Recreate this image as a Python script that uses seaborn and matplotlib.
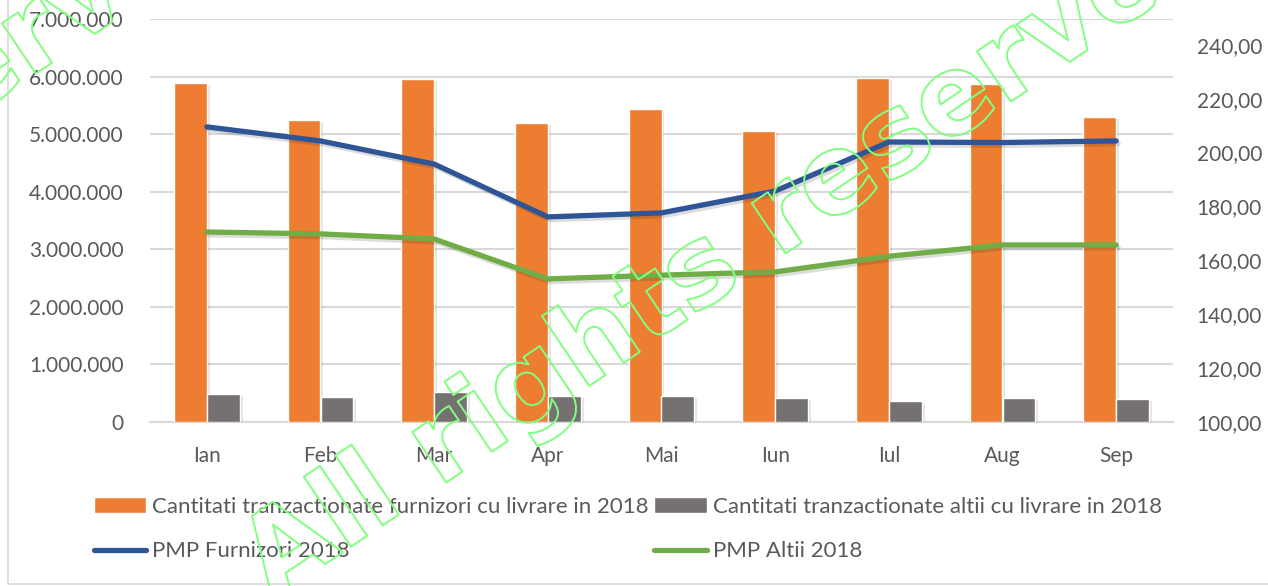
import numpy as np
import pandas as pd
import matplotlib
matplotlib.use("Agg")
import matplotlib.pyplot as plt
import seaborn as sns
from matplotlib import patheffects as pe
from matplotlib.lines import Line2D
from matplotlib.patches import Patch
from matplotlib.ticker import FuncFormatter

# ---------------- data ----------------
months = ["Ian", "Feb", "Mar", "Apr", "Mai", "Iun", "Iul", "Aug", "Sep"]
furnizori_qty = [5885000, 5240000, 5955000, 5190000, 5430000, 5050000, 5970000, 5870000, 5295000]
altii_qty = [480000, 440000, 526000, 450000, 450000, 420000, 370000, 410000, 395000]
pmp_furnizori = [209.5, 204.3, 195.7, 176.1, 177.6, 185.7, 203.9, 203.7, 204.3]
pmp_altii = [170.5, 169.8, 167.9, 153.1, 154.5, 155.7, 161.5, 165.7, 165.7]

label_furn = "Cantitati tranzactionate furnizori cu livrare in 2018"
label_alt = "Cantitati tranzactionate altii cu livrare in 2018"
label_pmp_f = "PMP Furnizori 2018"
label_pmp_a = "PMP Altii 2018"

left_ticks = [0, 1000000, 2000000, 3000000, 4000000, 5000000, 6000000, 7000000]
right_ticks = [100, 120, 140, 160, 180, 200, 220, 240]
watermark = "All rights reserved"

c_orange = "#ED7D31"
c_gray = "#767171"
c_blue = "#2F5597"
c_green = "#70AD47"
c_text = "#595959"
c_grid = "#D9D9D9"

sns.set_theme(style="white")
plt.rcParams["font.family"] = ["Lato", "DejaVu Sans"]

W, H = 1268, 586
fig = plt.figure(figsize=(W / 100, H / 100), dpi=100)
ax = fig.add_axes([150 / W, 1 - 422 / H, (1173 - 150) / W, (422 - 19) / H])

df = pd.DataFrame({
    "Luna": months * 2,
    "Cantitate": furnizori_qty + altii_qty,
    "Serie": [label_furn] * len(months) + [label_alt] * len(months),
})
sns.barplot(data=df, x="Luna", y="Cantitate", hue="Serie", order=months,
            hue_order=[label_furn, label_alt], palette=[c_orange, c_gray],
            width=0.58, gap=0, saturation=1, ax=ax, legend=False, zorder=3)
for p in ax.patches:
    p.set_path_effects([pe.SimplePatchShadow(offset=(2, -1.5), shadow_rgbFace="black", alpha=0.10),
                        pe.Normal()])

ax.set_xlim(-0.5, len(months) - 0.5)
ax.set_ylim(0, 7000000)
ax.set_yticks(left_ticks)
ax.yaxis.set_major_formatter(FuncFormatter(lambda v, p: f"{int(v):,}".replace(",", ".")))
ax.grid(axis="y", color=c_grid, linewidth=1.5, zorder=0)
ax.set_axisbelow(True)
for s in ["top", "right", "left"]:
    ax.spines[s].set_visible(False)
ax.spines["bottom"].set_color(c_grid)
ax.spines["bottom"].set_linewidth(1.5)
ax.set_xlabel("")
ax.set_ylabel("")
ax.tick_params(axis="y", length=0, pad=19, labelsize=15, labelcolor=c_text)
ax.tick_params(axis="x", length=0, pad=17, labelsize=15, labelcolor=c_text)

ax2 = ax.twinx()
x_idx = np.arange(len(months))
line_kw = dict(linewidth=3.8, solid_capstyle="round", solid_joinstyle="round",
               path_effects=[pe.SimpleLineShadow(offset=(1.5, -2), alpha=0.15), pe.Normal()])
sns.lineplot(x=x_idx, y=pmp_furnizori, color=c_blue, ax=ax2, sort=False, **line_kw)
sns.lineplot(x=x_idx, y=pmp_altii, color=c_green, ax=ax2, sort=False, **line_kw)
ax2.set_ylim(100, 100 + 403 / 53.9 * 20)
ax2.set_yticks(right_ticks)
ax2.yaxis.set_major_formatter(FuncFormatter(lambda v, p: f"{v:.2f}".replace(".", ",")))
ax2.tick_params(axis="y", length=0, pad=17, labelsize=15, labelcolor=c_text)
for s in ax2.spines.values():
    s.set_visible(False)
ax2.set_xlim(-0.5, len(months) - 0.5)

handles = [
    Patch(facecolor=c_orange, label=label_furn),
    Line2D([0], [0], color=c_blue, linewidth=3.8, solid_capstyle="round", label=label_pmp_f),
    Patch(facecolor=c_gray, label=label_alt),
    Line2D([0], [0], color=c_green, linewidth=3.8, solid_capstyle="round", label=label_pmp_a),
]
leg = fig.legend(handles=handles, ncol=2, loc="upper left",
                 bbox_to_anchor=(74 / W, 1 - 477 / H), frameon=False,
                 fontsize=16, labelcolor=c_text, handlelength=2.35, handleheight=0.7,
                 handletextpad=0.27, columnspacing=0.25, labelspacing=1.1)

# chart area border (partially visible)
fig.add_artist(Line2D([8 / W, 8 / W], [1 - 584 / H, 1], transform=fig.transFigure,
                      color="#D9D9D9", linewidth=1.2))
fig.add_artist(Line2D([8 / W, 1], [1 - 584 / H, 1 - 584 / H], transform=fig.transFigure,
                      color="#D9D9D9", linewidth=1.2))

# watermark (outlined text)
wm_kw = dict(rotation=34, rotation_mode="anchor", ha="left", va="baseline",
             fontsize=80, fontweight="bold", family="DejaVu Sans", color="none",
             path_effects=[pe.Stroke(linewidth=1.4, foreground="#80FF80")], zorder=10)
fig.text(272 / W, 1 - 600 / H, watermark, **wm_kw)
fig.text((272 - 975) / W, 1 - 572 / H, watermark, **wm_kw)

fig.savefig("out.png", dpi=100)
